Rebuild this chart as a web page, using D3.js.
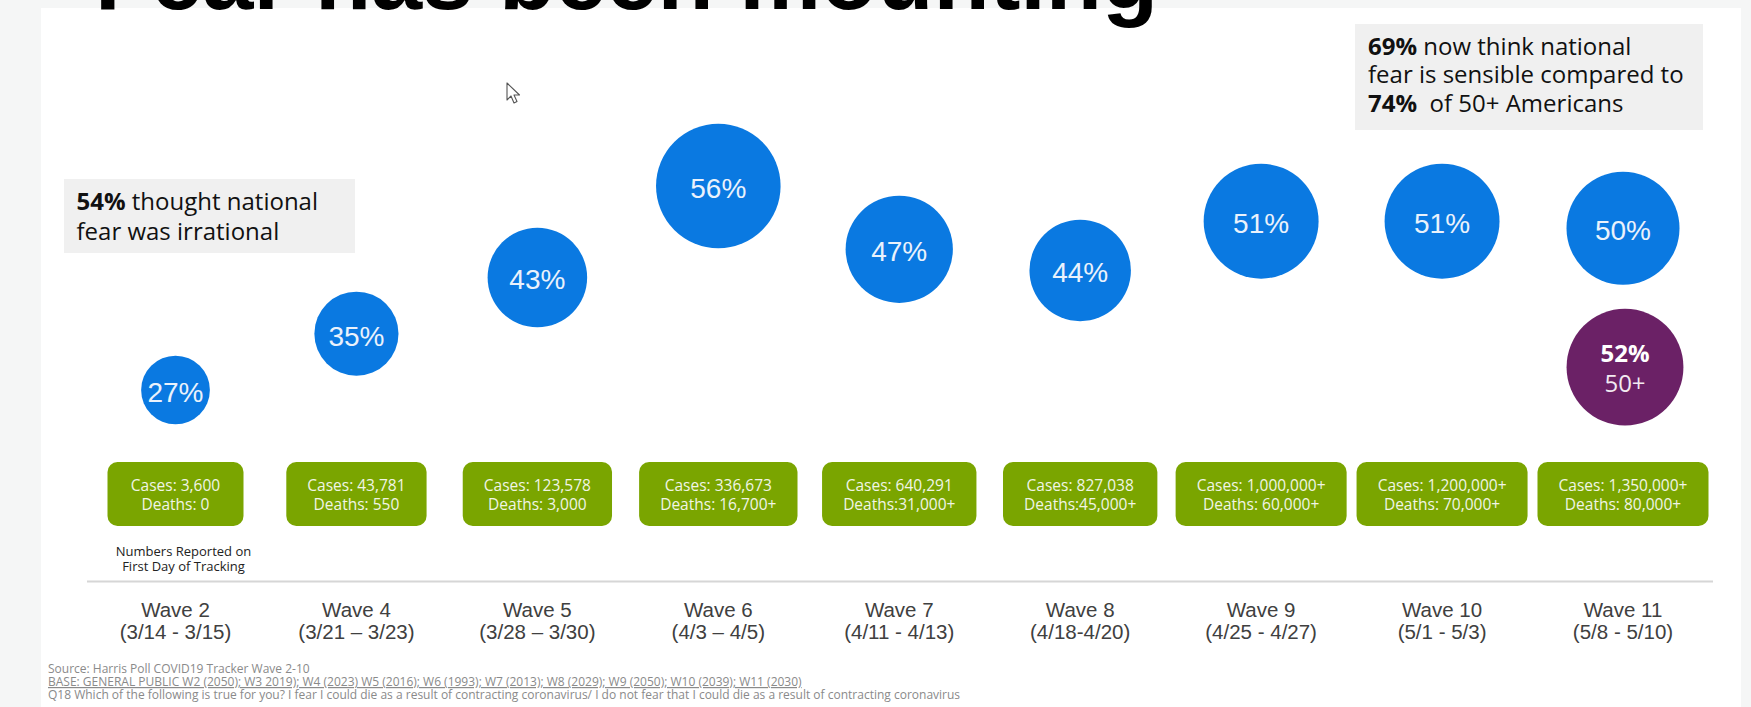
<!DOCTYPE html>
<meta charset="utf-8">
<style>
body {
  margin: 0;
  background: #f5f6f6;
  overflow: hidden;
}
svg { display: block; }
.ui { font-family: "Segoe UI", "Open Sans", sans-serif; }
.hel { font-family: "Liberation Sans", Arial, sans-serif; }
</style>
<body>
<script src="https://d3js.org/d3.v7.min.js"></script>
<script>

var width = 1751,
    height = 707;

// data
var waves = ["Wave 2", "Wave 4", "Wave 5", "Wave 6", "Wave 7", "Wave 8", "Wave 9", "Wave 10", "Wave 11"];
var dates = ["(3/14 - 3/15)", "(3/21 \u2013 3/23)", "(3/28 \u2013 3/30)", "(4/3 \u2013 4/5)", "(4/11 - 4/13)",
             "(4/18-4/20)", "(4/25 - 4/27)", "(5/1 - 5/3)", "(5/8 - 5/10)"];
var fearPct = [27, 35, 43, 56, 47, 44, 51, 51, 50];
var cases = ["Cases: 3,600", "Cases: 43,781", "Cases: 123,578", "Cases: 336,673", "Cases: 640,291",
             "Cases: 827,038", "Cases: 1,000,000+", "Cases: 1,200,000+", "Cases: 1,350,000+"];
var deaths = ["Deaths: 0", "Deaths: 550", "Deaths: 3,000", "Deaths: 16,700+", "Deaths:31,000+",
              "Deaths:45,000+", "Deaths: 60,000+", "Deaths: 70,000+", "Deaths: 80,000+"];
var olderWave = "Wave 11",
    olderPct = 52,
    olderLabel = "50+";
var footer = [
  "Source: Harris Poll COVID19 Tracker Wave 2-10",
  "BASE: GENERAL PUBLIC W2 (2050); W3 2019); W4 (2023) W5 (2016); W6 (1993); W7 (2013); W8 (2029); W9 (2050); W10 (2039); W11 (2030)",
  "Q18 Which of the following is true for you? I fear I could die as a result of contracting coronavirus/ I do not fear that I could die as a result of contracting coronavirus"
];

var svg = d3.select("body").append("svg")
    .attr("width", width)
    .attr("height", height);

// slide area
svg.append("rect")
  .attr("x", 41).attr("y", 8)
  .attr("width", 1700).attr("height", height)
  .attr("fill", "#fff");

var x = d3.scalePoint().domain(waves).range([175.5, 1623]);
var y = d3.scaleLinear().domain([27, 56]).range([390, 186]);
var r = d3.scaleLinear().domain([0, 100]).range([8.4, 104.6]);

// title, cut off by the top of the frame
svg.append("text")
  .attr("class", "hel")
  .attr("x", 95).attr("y", 9)
  .attr("font-size", 92)
  .attr("font-weight", "bold")
  .attr("fill", "#000")
  .text("Fear has been mounting");

// call-out boxes
function note(bx, by, bw, bh, tx, lines) {
  svg.append("rect")
    .attr("x", bx).attr("y", by)
    .attr("width", bw).attr("height", bh)
    .attr("fill", "#f0f0f0");
  var t = svg.append("text")
    .attr("class", "ui")
    .attr("font-size", 24)
    .attr("fill", "#111");
  lines.forEach(function(l) {
    var ts = t.append("tspan").attr("x", tx).attr("y", l.y);
    l.parts.forEach(function(p) {
      ts.append("tspan")
        .attr("font-weight", p.b ? "bold" : null)
        .text(p.t);
    });
  });
}

note(64, 179, 291, 74, 76.5, [
  {y: 210, parts: [{t: "54%", b: true}, {t: " thought national"}]},
  {y: 240, parts: [{t: "fear was irrational"}]}
]);

note(1355, 24, 348, 106, 1368, [
  {y: 55, parts: [{t: "69%", b: true}, {t: " now think national"}]},
  {y: 83.3, parts: [{t: "fear is sensible compared to"}]},
  {y: 111.7, parts: [{t: "74%", b: true}, {t: "\u00a0 of 50+ Americans"}]}
]);

// bubbles
var bub = svg.selectAll(".bubble")
  .data(waves)
  .enter().append("g")
  .attr("class", "bubble");

bub.append("circle")
  .attr("cx", function(d) { return x(d); })
  .attr("cy", function(d, i) { return y(fearPct[i]); })
  .attr("r", function(d, i) { return r(fearPct[i]); })
  .attr("fill", "#0a79e1");

bub.append("text")
  .attr("class", "hel")
  .attr("x", function(d) { return x(d); })
  .attr("y", function(d, i) { return y(fearPct[i]) + 12; })
  .attr("text-anchor", "middle")
  .attr("font-size", 28)
  .attr("fill", "#eaf2fc")
  .text(function(d, i) { return fearPct[i] + "%"; });

// 50+ comparison bubble under wave 11
var wi = waves.indexOf(olderWave);
var ocx = x(olderWave) + 2,
    ocy = y(fearPct[wi]) + r(fearPct[wi]) + r(olderPct) + 24;
svg.append("circle")
  .attr("cx", ocx).attr("cy", ocy)
  .attr("r", r(olderPct))
  .attr("fill", "#6b2166");
svg.append("text")
  .attr("class", "ui")
  .attr("x", ocx).attr("y", ocy - 5)
  .attr("text-anchor", "middle")
  .attr("font-size", 24)
  .attr("font-weight", "bold")
  .attr("fill", "#fff")
  .text(olderPct + "%");
svg.append("text")
  .attr("class", "ui")
  .attr("x", ocx).attr("y", ocy + 25)
  .attr("text-anchor", "middle")
  .attr("font-size", 24)
  .attr("fill", "#f2eaf1")
  .text(olderLabel);

// green case / death boxes
var boxTop = 462, boxH = 64;
var box = svg.selectAll(".box")
  .data(waves)
  .enter().append("g")
  .attr("class", "box");

var boxRect = box.append("rect")
  .attr("y", boxTop)
  .attr("height", boxH)
  .attr("rx", 10)
  .attr("fill", "#7aa500");

var boxText = box.append("text")
  .attr("class", "ui")
  .attr("text-anchor", "middle")
  .attr("font-size", 15.5)
  .attr("fill", "#f1f5e6");
boxText.append("tspan")
  .attr("x", function(d) { return x(d); })
  .attr("y", boxTop + 28.5)
  .text(function(d, i) { return cases[i]; });
boxText.append("tspan")
  .attr("x", function(d) { return x(d); })
  .attr("y", boxTop + 47.5)
  .text(function(d, i) { return deaths[i]; });

boxRect.each(function(d) {
  var tw = this.parentNode.querySelector("text").getBBox().width;
  var w = Math.max(136, tw + 42);
  d3.select(this).attr("x", x(d) - w / 2).attr("width", w);
});

svg.append("text")
  .attr("class", "ui")
  .attr("text-anchor", "middle")
  .attr("font-size", 13)
  .attr("fill", "#222")
  .selectAll("tspan")
  .data(["Numbers Reported on", "First Day of Tracking"])
  .enter().append("tspan")
  .attr("x", x(waves[0]) + 8)
  .attr("y", function(d, i) { return 556 + i * 14.5; })
  .text(function(d) { return d; });

// axis rule and wave labels
svg.append("line")
  .attr("x1", 87).attr("x2", 1713)
  .attr("y1", 581.5).attr("y2", 581.5)
  .attr("stroke", "#d6d6d6")
  .attr("stroke-width", 2);

var lab = svg.selectAll(".wave")
  .data(waves)
  .enter().append("text")
  .attr("class", "hel wave")
  .attr("text-anchor", "middle")
  .attr("font-size", 20.5)
  .attr("fill", "#404040");
lab.append("tspan")
  .attr("x", function(d) { return x(d); })
  .attr("y", 617)
  .text(function(d) { return d; });
lab.append("tspan")
  .attr("x", function(d) { return x(d); })
  .attr("y", 639)
  .text(function(d, i) { return dates[i]; });

// footnotes
svg.append("g")
  .selectAll("text")
  .data(footer)
  .enter().append("text")
  .attr("class", "ui")
  .attr("x", 48)
  .attr("y", function(d, i) { return 673 + i * 13; })
  .attr("font-size", 12)
  .attr("fill", "#8a8a8a")
  .attr("text-decoration", function(d, i) { return i == 1 ? "underline" : null; })
  .text(function(d) { return d; });

// mouse pointer left on the screenshot
svg.append("path")
  .attr("d", "M507,83 L507,100 L511,96 L514,103 L517,101.5 L514,95 L519.5,95 Z")
  .attr("fill", "#fff")
  .attr("stroke", "#555")
  .attr("stroke-width", 1.1)
  .attr("stroke-linejoin", "round");

</script>
